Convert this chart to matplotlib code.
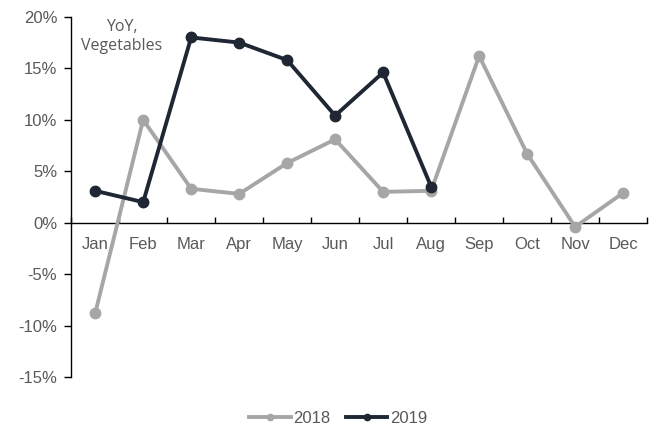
import matplotlib
matplotlib.use("Agg")
import matplotlib.pyplot as plt
from matplotlib.ticker import FixedLocator, FuncFormatter

months = ["Jan", "Feb", "Mar", "Apr", "May", "Jun", "Jul", "Aug", "Sep", "Oct", "Nov", "Dec"]
yoy_2018 = [-8.8, 10.0, 3.3, 2.8, 5.8, 8.1, 3.0, 3.1, 16.2, 6.7, -0.4, 2.9]
yoy_2019 = [3.1, 2.0, 18.0, 17.5, 15.8, 10.4, 14.6, 3.5]
yticks = [-15, -10, -5, 0, 5, 10, 15, 20]

plt.rcParams['font.family'] = ['Liberation Sans', 'DejaVu Sans']
txt = '#595959'
c18 = '#A6A6A6'
c19 = '#1E2733'

fig = plt.figure(figsize=(6.53, 4.32), dpi=100)
ax = fig.add_axes([0.109, 0.127, 0.882, 0.834])

x18 = list(range(len(yoy_2018)))
x19 = list(range(len(yoy_2019)))
ax.plot(x18, yoy_2018, color=c18, lw=2.8, marker='o', ms=7.5, label='2018', zorder=3)
ax.plot(x19, yoy_2019, color=c19, lw=2.8, marker='o', ms=7.5, label='2019', zorder=4)

ax.set_xlim(-0.5, len(months) - 0.5)
ax.set_ylim(-15, 20)

for s in ['top', 'right']:
    ax.spines[s].set_visible(False)
ax.spines['bottom'].set_position(('data', 0))
ax.spines['left'].set_color('black')
ax.spines['bottom'].set_color('black')
ax.spines['left'].set_linewidth(1.0)
ax.spines['bottom'].set_linewidth(1.0)

ax.set_yticks(yticks)
ax.yaxis.set_major_formatter(FuncFormatter(lambda v, p: f"{int(v)}%"))
ax.tick_params(axis='y', direction='out', length=5, width=1, colors='black',
               labelcolor=txt, labelsize=12, pad=5)

# x ticks at category boundaries, labels at centers
ax.xaxis.set_major_locator(FixedLocator([i - 0.5 for i in range(len(months) + 1)]))
ax.xaxis.set_major_formatter(FuncFormatter(lambda v, p: ""))
ax.xaxis.set_minor_locator(FixedLocator(list(range(len(months)))))
ax.set_xticklabels(months, minor=True)
ax.tick_params(axis='x', which='major', direction='in', length=4, width=1, colors='black')
ax.tick_params(axis='x', which='minor', length=0, labelcolor=txt, labelsize=12, pad=10)

ax.text(0.55, 19.75, "YoY,\nVegetables", ha='center', va='top', color=txt,
        fontsize=11.5, family=['Open Sans', 'DejaVu Sans'], linespacing=1.2)

leg = fig.legend(loc='center', bbox_to_anchor=(0.518, 0.032), ncol=2, frameon=False,
                 fontsize=12, handlelength=2.5, handletextpad=0.15, columnspacing=0.9,
                 markerscale=0.6)
for t in leg.get_texts():
    t.set_color(txt)

fig.savefig("out.png", dpi=100)
